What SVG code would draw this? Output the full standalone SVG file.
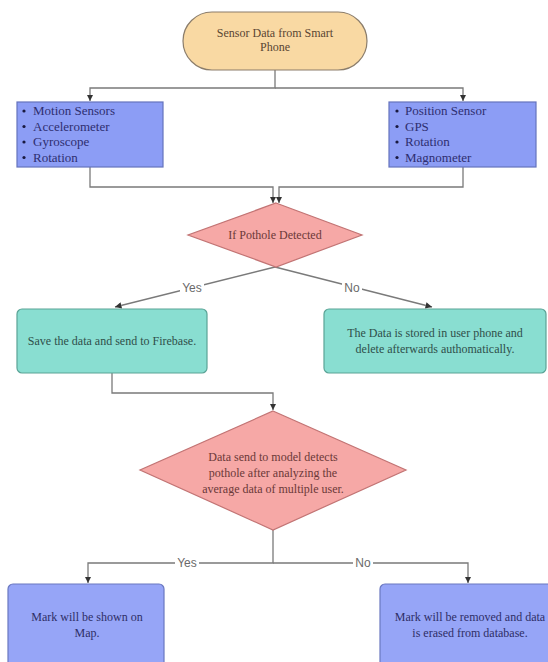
<svg xmlns="http://www.w3.org/2000/svg" width="548" height="662" viewBox="0 0 548 662">
<defs>
<marker id="arr" viewBox="0 0 10 10" refX="10" refY="5" markerWidth="5" markerHeight="5" orient="auto-start-reverse">
<path d="M0,0 L10,5 L0,10 z" fill="#333"/>
</marker>
<style>
.edge{fill:none;stroke:#7a7a7a;stroke-width:1.3}
.term{fill:#f9d9a3;stroke:#8b7d6b;stroke-width:1.2}
.blue{fill:#8c9df5;stroke:#6573bd;stroke-width:1.2}
.blue2{fill:#96a5f7;stroke:#6a78c0;stroke-width:1.2}
.teal{fill:#89ded1;stroke:#5aa396;stroke-width:1.2}
.dia{fill:#f6a8a6;stroke:#c27474;stroke-width:1.2}
text{font-family:"Liberation Serif","Times New Roman",serif;font-size:12px}
.tterm{fill:#5a4633;text-anchor:middle}
.tbul{fill:#2e2e70;font-size:13px}
.tteal{fill:#2f4f4a;text-anchor:middle}
.tdia{fill:#6b3838;text-anchor:middle}
.tblue{fill:#2e2e66;text-anchor:middle}
.lbl{font-family:"Liberation Sans",Arial,sans-serif;font-size:12px;fill:#6a6a6a;text-anchor:middle}
.lblbg{fill:#ffffff}
</style>
</defs>
<rect width="548" height="662" fill="#ffffff"/>

<g id="connectors">
<path class="edge" d="M275,70 V88 H90 V101" marker-end="url(#arr)"/>
<path class="edge" d="M275,88 H463 V101" marker-end="url(#arr)"/>
<path class="edge" d="M90,167 V187 H273 V203" marker-end="url(#arr)"/>
<path class="edge" d="M463,167 V187 H279 V203" marker-end="url(#arr)"/>
<path class="edge" d="M275,267 L115,307" marker-end="url(#arr)"/>
<path class="edge" d="M275,267 L432,307" marker-end="url(#arr)"/>
<path class="edge" d="M112,373 V393 H273 V410" marker-end="url(#arr)"/>
<path class="edge" d="M273,530 V563 H88 V583" marker-end="url(#arr)"/>
<path class="edge" d="M273,563 H468 V583" marker-end="url(#arr)"/>
<rect class="lblbg" x="180" y="282" width="24" height="12"/>
<text class="lbl" x="192" y="292">Yes</text>
<rect class="lblbg" x="342" y="282" width="20" height="12"/>
<text class="lbl" x="352" y="292">No</text>
<rect class="lblbg" x="175" y="557" width="24" height="12"/>
<text class="lbl" x="187" y="567">Yes</text>
<rect class="lblbg" x="353" y="557" width="20" height="12"/>
<text class="lbl" x="363" y="567">No</text>
</g>

<g id="start">
<rect class="term" x="183" y="12" width="184" height="58" rx="29"/>
<text class="tterm" x="275" y="37">Sensor Data from Smart</text>
<text class="tterm" x="275" y="51">Phone</text>
</g>

<g id="motion">
<rect class="blue" x="17" y="102" width="146" height="65"/>
<circle cx="24" cy="111" r="1.6" fill="#1a1a40"/>
<circle cx="24" cy="126.5" r="1.6" fill="#1a1a40"/>
<circle cx="24" cy="142" r="1.6" fill="#1a1a40"/>
<circle cx="24" cy="157.5" r="1.6" fill="#1a1a40"/>
<text class="tbul" x="33" y="115">Motion Sensors</text>
<text class="tbul" x="33" y="130.5">Accelerometer</text>
<text class="tbul" x="33" y="146">Gyroscope</text>
<text class="tbul" x="33" y="161.5">Rotation</text>
</g>

<g id="position">
<rect class="blue" x="389" y="102" width="147" height="65"/>
<circle cx="397" cy="111" r="1.6" fill="#1a1a40"/>
<circle cx="397" cy="126.5" r="1.6" fill="#1a1a40"/>
<circle cx="397" cy="142" r="1.6" fill="#1a1a40"/>
<circle cx="397" cy="157.5" r="1.6" fill="#1a1a40"/>
<text class="tbul" x="405" y="115">Position Sensor</text>
<text class="tbul" x="405" y="130.5">GPS</text>
<text class="tbul" x="405" y="146">Rotation</text>
<text class="tbul" x="405" y="161.5">Magnometer</text>
</g>

<g id="decision1">
<polygon class="dia" points="276,203 362,235 276,267 188,235"/>
<text class="tdia" x="275" y="239">If Pothole Detected</text>
</g>

<g id="save">
<rect class="teal" x="17" y="309" width="190" height="64" rx="5"/>
<text class="tteal" x="112" y="345">Save the data and send to Firebase.</text>
</g>

<g id="stored">
<rect class="teal" x="324" y="309" width="222" height="64" rx="5"/>
<text class="tteal" x="435" y="337">The Data is stored in user phone and</text>
<text class="tteal" x="435" y="353">delete afterwards authomatically.</text>
</g>

<g id="decision2">
<polygon class="dia" points="273,411 406,470 273,530 140,470"/>
<text class="tdia" x="273" y="461">Data send to model detects</text>
<text class="tdia" x="273" y="477">pothole after analyzing the</text>
<text class="tdia" x="273" y="493">average data of multiple user.</text>
</g>

<g id="shown">
<rect class="blue2" x="8" y="584" width="156" height="90" rx="5"/>
<text class="tblue" x="87" y="621">Mark will be shown on</text>
<text class="tblue" x="87" y="637">Map.</text>
</g>

<g id="removed">
<rect class="blue2" x="380" y="584" width="178" height="90" rx="5"/>
<text class="tblue" x="470" y="621">Mark will be removed and data</text>
<text class="tblue" x="470" y="637">is erased from database.</text>
</g>
</svg>
